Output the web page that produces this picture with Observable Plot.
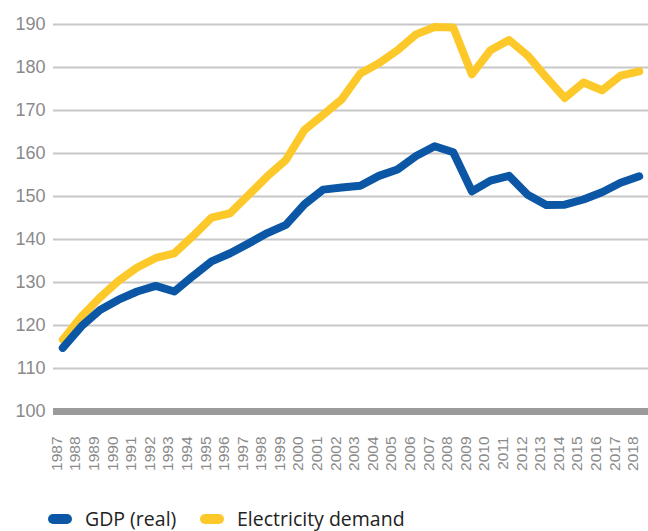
<!DOCTYPE html>
<html>
<head>
<meta charset="utf-8">
<script src="https://cdn.jsdelivr.net/npm/d3@7"></script>
<script src="https://cdn.jsdelivr.net/npm/@observablehq/plot@0.6"></script>
<style>
  html, body { margin: 0; padding: 0; background: #fff; }
  #chart svg { display: block; }
  .legend { position: relative; height: 41px; font-family: "Open Sans", Lato, sans-serif; font-size: 19.5px; color: #222; }
  .item { position: absolute; top: 18px; display: flex; align-items: center; line-height: 22px; }
  .sw { width: 24px; height: 10px; border-radius: 5px; margin-right: 13px; }
</style>
</head>
<body>
<div id="chart"></div>
<div class="legend">
  <div class="item" style="left:48px"><span class="sw" style="background:#0b57a6"></span><span>GDP (real)</span></div>
  <div class="item" style="left:200px"><span class="sw" style="background:#fdc92a"></span><span>Electricity demand</span></div>
</div>
<script>
const years = [1987,1988,1989,1990,1991,1992,1993,1994,1995,1996,1997,1998,1999,2000,2001,2002,2003,2004,2005,2006,2007,2008,2009,2010,2011,2012,2013,2014,2015,2016,2017,2018];
const gdp = [114.8,119.8,123.6,126.0,127.9,129.2,127.9,131.5,134.9,136.8,139.1,141.5,143.4,148.2,151.6,152.1,152.5,154.8,156.3,159.4,161.7,160.3,151.2,153.7,154.8,150.4,148.0,148.1,149.3,151.0,153.2,154.7];
const electricity = [116.7,122.1,126.5,130.4,133.5,135.7,136.8,140.8,145.1,146.1,150.4,154.7,158.5,165.5,169.0,172.6,178.6,181.0,184.0,187.7,189.4,189.3,178.4,184.0,186.4,182.8,177.7,172.9,176.5,174.7,178.1,179.1];
const yTicks = [110,120,130,140,150,160,170,180,190];
const yLabels = [100,110,120,130,140,150,160,170,180,190];

const gdpData = years.map((y, i) => ({year: String(y), value: gdp[i]}));
const elecData = years.map((y, i) => ({year: String(y), value: electricity[i]}));

const chart = Plot.plot({
  width: 648,
  height: 490,
  marginLeft: 53,
  marginRight: 0,
  marginTop: 24,
  marginBottom: 79,
  style: {fontFamily: "'Liberation Sans', Arial, sans-serif", color: "#8a8a8a", background: "#fff"},
  x: {type: "point", domain: years.map(String), padding: 0.5, round: false},
  y: {domain: [100, 190]},
  marks: [
    Plot.ruleY(yTicks, {stroke: "#c8c8c8", strokeWidth: 2}),
    Plot.ruleY([100], {stroke: "#9a9a9a", strokeWidth: 7}),
    Plot.axisY(yLabels, {tickSize: 0, tickPadding: 8, fontSize: 18, label: null, fill: "#8a8a8a"}),
    Plot.axisX({tickSize: 0, tickRotate: -90, tickPadding: 25, fontSize: 15.5, label: null, dx: -6, fill: "#8a8a8a"}),
    Plot.line(elecData, {x: "year", y: "value", stroke: "#fdc92a", strokeWidth: 8, strokeLinejoin: "round", strokeLinecap: "round"}),
    Plot.line(gdpData, {x: "year", y: "value", stroke: "#0b57a6", strokeWidth: 8, strokeLinejoin: "round", strokeLinecap: "round"})
  ]
});
document.getElementById("chart").appendChild(chart);
</script>
</body>
</html>
